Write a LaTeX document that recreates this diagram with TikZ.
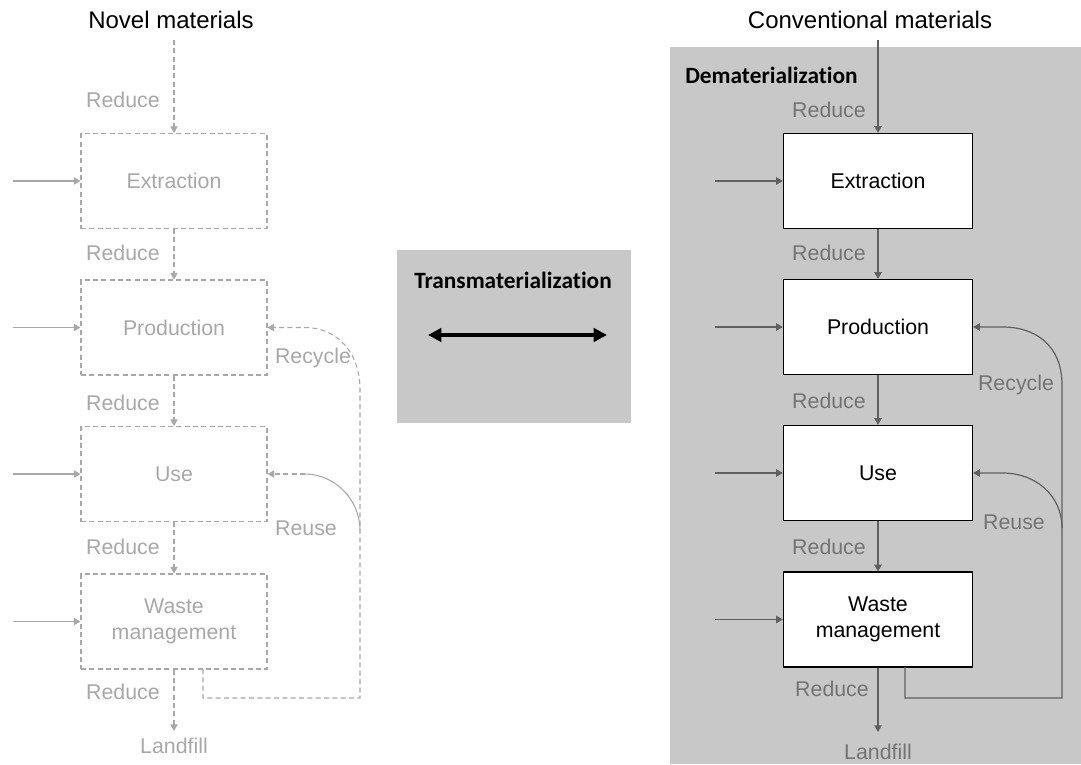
\documentclass[tikz,border=0pt]{standalone}
\usepackage{fontspec}
\setmainfont{Liberation Sans}
\newfontfamily\calib[Ligatures={NoCommon}]{Carlito}
\usetikzlibrary{arrows.meta}
\definecolor{lgray}{HTML}{A8A8A8}
\definecolor{dgray}{HTML}{606060}
\definecolor{tgray}{HTML}{737373}
\definecolor{panel}{HTML}{C8C8C8}
\begin{document}
\begin{tikzpicture}[x=0.75pt,y=-0.75pt,
  title/.style={font=\fontsize{18}{20}\selectfont, text=black, inner sep=0pt},
  lbl/.style={font=\fontsize{16}{18}\selectfont, inner sep=0pt},
  bold/.style={font=\calib\bfseries\fontsize{17.5}{20}\selectfont, text=black, inner sep=0pt},
  lbox/.style={draw=lgray, dashed, dash pattern=on 3.75pt off 2.5pt, line width=0.8pt, text=lgray,
    minimum width=186*0.75pt, minimum height=95*0.75pt, align=center, font=\fontsize{16}{19}\selectfont, inner sep=0pt},
  rbox/.style={draw=black, fill=white, line width=0.9pt, text=black,
    minimum width=189*0.75pt, minimum height=95*0.75pt, align=center, font=\fontsize{16}{19}\selectfont, inner sep=0pt},
  arr/.style={-{Triangle[width=5.5pt,length=5pt]}},
  lline/.style={draw=lgray, line width=0.8pt},
  ldash/.style={draw=lgray, line width=0.8pt, dashed, dash pattern=on 3.75pt off 2.5pt},
  rline/.style={draw=dgray, line width=0.9pt},
  ]
\useasboundingbox (0,0) rectangle (1081,764);
\fill[panel] (670,47) rectangle (1081,764);
\fill[panel] (397,250) rectangle (631,423);

% ---------- left column ----------
\node[title] (nm) at (171,20) {Novel materials};
\node[lbox] (le) at (174,181) {Extraction};
\node[lbox] (lp) at (174,327.5) {Production};
\node[lbox] (lu) at (174,474) {Use};
\node[lbox] (lw) at (174,621.5) {Waste\\management};
\node[lbl, text=lgray] (lland) at (174,746) {Landfill};

\coordinate (ltop) at (174,40);
\coordinate (lbot) at (174,731);
\draw[ldash, arr, lgray] (ltop) -- (le.north);
\draw[ldash, arr, lgray] (le.south) -- (lp.north);
\draw[ldash, arr, lgray] (lp.south) -- (lu.north);
\draw[ldash, arr, lgray] (lu.south) -- (lw.north);
\draw[ldash, arr, lgray] (lw.south) -- (lbot);

\node[lbl, text=lgray] (lr1) at (123,100) {Reduce};
\node[lbl, text=lgray] (lr2) at (123,253) {Reduce};
\node[lbl, text=lgray] (lr3) at (123,403) {Reduce};
\node[lbl, text=lgray] (lr4) at (123,547) {Reduce};
\node[lbl, text=lgray] (lr5) at (123,692) {Reduce};

\coordinate (li1) at (13,181);
\coordinate (li2) at (13,327.5);
\coordinate (li3) at (13,474);
\coordinate (li4) at (13,621.5);
\draw[lline, arr, lgray] (li1) -- (le.west);
\draw[lline, arr, lgray] (li2) -- (lp.west);
\draw[lline, arr, lgray] (li3) -- (lu.west);
\draw[lline, arr, lgray] (li4) -- (lw.west);

\coordinate (lw0) at (203,669);
\coordinate (lc1) at (203,698);
\coordinate (lc2) at (360,698);
\coordinate (lc3) at (360,390);
\coordinate (lc4) at (305,327.5);
\draw[ldash, arr, lgray] (lw0) -- (lc1) -- (lc2) -- (lc3)
   .. controls (360,350) and (335,327.5) .. (lc4) -- (lp.east);
\coordinate (lu1) at (360,530);
\coordinate (lu2) at (305,474);
\draw[lline] (lu1) .. controls (360,500) and (335,474) .. (lu2);
\draw[ldash, arr, lgray] (lu2) -- (lu.east);
\node[lbl, text=lgray] (lrec) at (313,358) {Recycle};
\node[lbl, text=lgray] (lreu) at (306,528) {Reuse};

% ---------- middle ----------
\node[bold] (tm) at (513,280) {Transmaterialization};
\coordinate (ma) at (428,335);
\coordinate (mb) at (607,335);
\draw[line width=3pt, {Triangle[width=10pt,length=10pt]}-{Triangle[width=10pt,length=10pt]}] (ma) -- (mb);

% ---------- right column ----------
\node[title] (cm) at (870,20) {Conventional materials};
\node[bold, anchor=west] (dm) at (685,75) {Dematerialization};
\node[rbox] (re) at (878,181) {Extraction};
\node[rbox] (rp) at (878,327) {Production};
\node[rbox] (ru) at (878,473) {Use};
\node[rbox] (rw) at (878,619.5) {Waste\\management};
\node[lbl, text=tgray] (rland) at (878,752) {Landfill};

\coordinate (rtop) at (878,40);
\coordinate (rbot) at (878,732);
\draw[rline, arr, dgray] (rtop) -- (re.north);
\draw[rline, arr, dgray] (re.south) -- (rp.north);
\draw[rline, arr, dgray] (rp.south) -- (ru.north);
\draw[rline, arr, dgray] (ru.south) -- (rw.north);
\draw[rline, arr, dgray] (rw.south) -- (rbot);

\node[lbl, text=tgray] (rr1) at (829,110) {Reduce};
\node[lbl, text=tgray] (rr2) at (829,253) {Reduce};
\node[lbl, text=tgray] (rr3) at (829,401) {Reduce};
\node[lbl, text=tgray] (rr4) at (829,547) {Reduce};
\node[lbl, text=tgray] (rr5) at (832,689) {Reduce};

\coordinate (ri1) at (715,181);
\coordinate (ri2) at (715,327);
\coordinate (ri3) at (715,473);
\coordinate (ri4) at (715,619.5);
\draw[rline, arr, dgray] (ri1) -- (re.west);
\draw[rline, arr, dgray] (ri2) -- (rp.west);
\draw[rline, arr, dgray] (ri3) -- (ru.west);
\draw[rline, arr, dgray] (ri4) -- (rw.west);

\coordinate (rw0) at (905,667);
\coordinate (rc1) at (905,698);
\coordinate (rc2) at (1062,698);
\coordinate (rc3) at (1062,385);
\coordinate (rc4) at (1003,327);
\draw[rline, arr, dgray] (rw0) -- (rc1) -- (rc2) -- (rc3)
   .. controls (1062,345) and (1035,327) .. (rc4) -- (rp.east);
\coordinate (ru1) at (1062,528);
\coordinate (ru2) at (1003,473);
\draw[rline, arr, dgray] (ru1) .. controls (1062,495) and (1035,473) .. (ru2) -- (ru.east);
\node[lbl, text=tgray] (rrec) at (1016,385) {Recycle};
\node[lbl, text=tgray] (rreu) at (1014,522) {Reuse};
\end{tikzpicture}
\end{document}
